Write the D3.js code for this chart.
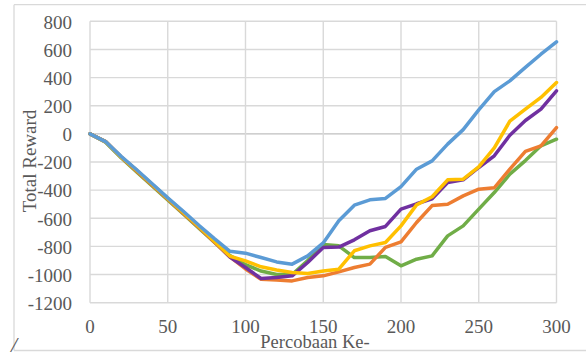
<!DOCTYPE html>
<html>
<head>
<meta charset="utf-8">
<script src="https://cdn.jsdelivr.net/npm/d3@7"></script>
<style>
  body { margin: 0; background: #fff; }
  text { font-family: "Liberation Serif", "Times New Roman", serif; fill: #595959; }
</style>
</head>
<body>
<div id="chart"></div>
<script>
// trial number (x) and total reward per series
var trials = [0, 10, 20, 30, 40, 50, 60, 70, 80, 90, 100, 110, 120, 130, 140, 150,
              160, 170, 180, 190, 200, 210, 220, 230, 240, 250, 260, 270, 280, 290, 300];

var greenVals  = [0, -60, -170, -270, -370, -470, -570, -670, -770, -865, -930, -975, -1000, -1000, -900, -786,
                  -796, -879, -879, -872, -938, -891, -867, -725, -654, -535, -417, -286, -190, -85, -38];
var orangeVals = [0, -55, -165, -265, -365, -465, -565, -665, -770, -875, -960, -1033, -1038, -1045, -1021, -1009,
                  -981, -950, -926, -807, -768, -630, -510, -500, -441, -393, -383, -250, -125, -85, 45];
var purpleVals = [0, -55, -165, -260, -360, -460, -560, -660, -765, -876, -950, -1028, -1021, -1009, -914, -807,
                  -805, -753, -689, -658, -535, -497, -462, -346, -327, -239, -156, -10, 95, 176, 306];
var yellowVals = [0, -55, -165, -260, -360, -460, -560, -660, -765, -870, -903, -945, -967, -985, -992, -974,
                  -962, -831, -796, -772, -654, -505, -447, -327, -322, -235, -100, 90, 176, 259, 365];
var blueVals   = [0, -55, -160, -255, -355, -455, -550, -650, -745, -835, -848, -879, -910, -926, -867, -775,
                  -618, -507, -469, -459, -375, -251, -192, -73, 30, 170, 300, 377, 472, 566, 654];

var xTicks = [0, 50, 100, 150, 200, 250, 300];
var yTicks = [800, 600, 400, 200, 0, -200, -400, -600, -800, -1000, -1200];

// drawing order: last one ends up on top
var seriesList = [
  {name: "green",  vals: greenVals,  color: "#70AD47"},
  {name: "orange", vals: orangeVals, color: "#ED7D31"},
  {name: "purple", vals: purpleVals, color: "#7030A0"},
  {name: "yellow", vals: yellowVals, color: "#FFC000"},
  {name: "blue",   vals: blueVals,   color: "#5B9BD5"}
];

var width = 586, height = 356;
var margin = {left: 90, right: 29.5, top: 21.3, bottom: 53.3};

var svg = d3.select("#chart").append("svg")
    .attr("width", width)
    .attr("height", height);

// outer frame (right side is cut off in the original)
var frame = svg.append("g").attr("stroke", "#d9d9d9").attr("stroke-width", 1.3);
frame.append("line").attr("x1", 14).attr("x2", width).attr("y1", 4.7).attr("y2", 4.7);
frame.append("line").attr("x1", 14).attr("x2", 14).attr("y1", 4.7).attr("y2", 350.5);
frame.append("line").attr("x1", 14).attr("x2", width).attr("y1", 350.5).attr("y2", 350.5);

var x = d3.scaleLinear()
    .domain([0, 300])
    .range([margin.left, width - margin.right]);

var y = d3.scaleLinear()
    .domain([-1200, 800])
    .range([height - margin.bottom, margin.top]);

// gridlines
svg.append("g")
    .selectAll("line")
    .data(yTicks)
    .enter()
    .append("line")
    .attr("x1", x(0))
    .attr("x2", x(300))
    .attr("y1", function (d) { return y(d); })
    .attr("y2", function (d) { return y(d); })
    .attr("stroke", function (d) { return d == 0 ? "#bfbfbf" : "#d9d9d9"; })
    .attr("stroke-width", 1.4);

svg.append("g")
    .selectAll("line")
    .data(xTicks)
    .enter()
    .append("line")
    .attr("x1", function (d) { return x(d); })
    .attr("x2", function (d) { return x(d); })
    .attr("y1", y(800))
    .attr("y2", y(-1200))
    .attr("stroke", "#d9d9d9")
    .attr("stroke-width", 1.4);

// tick labels
svg.append("g")
    .selectAll("text")
    .data(yTicks)
    .enter()
    .append("text")
    .attr("x", 72)
    .attr("y", function (d) { return y(d); })
    .attr("dy", "0.38em")
    .attr("text-anchor", "end")
    .style("font-size", "19px")
    .text(function (d) { return d < 0 ? "-" + Math.abs(d) : d; });

svg.append("g")
    .selectAll("text")
    .data(xTicks)
    .enter()
    .append("text")
    .attr("x", function (d) { return x(d); })
    .attr("y", 332.5)
    .attr("text-anchor", "middle")
    .style("font-size", "19px")
    .text(function (d) { return d; });

// axis titles
svg.append("text")
    .attr("x", 315)
    .attr("y", 348)
    .attr("text-anchor", "middle")
    .style("font-size", "18.5px")
    .text("Percobaan Ke-");

svg.append("text")
    .attr("transform", "translate(36,161) rotate(-90)")
    .attr("text-anchor", "middle")
    .style("font-size", "19px")
    .text("Total Reward");

svg.append("text")
    .attr("x", 11)
    .attr("y", 352)
    .style("font-size", "22px")
    .style("font-style", "italic")
    .text("/");

// series lines
var line = d3.line()
    .x(function (d, i) { return x(trials[i]); })
    .y(function (d) { return y(d); });

svg.append("g")
    .selectAll("path")
    .data(seriesList)
    .enter()
    .append("path")
    .attr("d", function (s) { return line(s.vals); })
    .attr("fill", "none")
    .attr("stroke", function (s) { return s.color; })
    .attr("stroke-width", 3.5)
    .attr("stroke-linejoin", "round")
    .attr("stroke-linecap", "round");
</script>
</body>
</html>
